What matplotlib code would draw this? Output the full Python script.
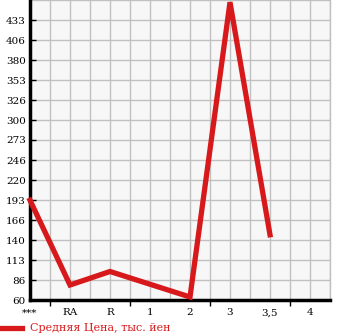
import matplotlib
matplotlib.use("Agg")
import matplotlib.pyplot as plt
from matplotlib.lines import Line2D
import numpy as np

categories = ["***", "RA", "R", "1", "2", "3", "3,5", "4"]
values = [193, 80, 98, 81, 64, 457, 147, None]
yticks = [60 + i * 400 / 15 for i in range(16)]
ytick_labels = [str(int(v)) for v in yticks[:-1]]
legend_label = "Средняя Цена, тыс. йен"

RED = "#d7191c"
W, H = 345, 335

fig = plt.figure(figsize=(W / 100, H / 100), dpi=100)
ax = fig.add_axes([30 / W, 35 / H, 300 / W, 300 / H])
ax.set_facecolor("#f7f7f7")

x = np.arange(len(categories))
xs = [xi for xi, v in zip(x, values) if v is not None]
vs = [v for v in values if v is not None]
ax.plot(xs, vs, color=RED, lw=3.8, solid_joinstyle="miter", clip_on=False, zorder=3)

ax.set_xlim(0, 7.5)
ax.set_ylim(60, 460)
ax.set_yticks(yticks[:-1])
ax.set_yticklabels(ytick_labels, fontsize=7.5, family="DejaVu Serif")
ax.set_xticks(x)
ax.set_xticklabels(categories, fontsize=7.5, family="DejaVu Serif")
ax.set_xticks(np.arange(0.5, 8, 0.5), minor=True)

ax.grid(False)
for gx in np.arange(0.5, 7.6, 0.5):
    ax.axvline(gx, color="#c0c0c0", lw=1, zorder=1)
for gy in yticks[1:]:
    ax.axhline(gy, color="#c0c0c0", lw=1, zorder=1)

ax.tick_params(axis="x", which="major", length=0, pad=6)
ax.tick_params(axis="x", which="minor", length=4, width=1, direction="out")
ax.tick_params(axis="y", which="major", length=4, width=1, direction="in", pad=3)
for t, pos in zip(ax.xaxis.get_minor_ticks(), np.arange(0.5, 8, 0.5)):
    if abs(pos - round(pos)) < 1e-6:
        t.tick1line.set_visible(False)

ax.spines["top"].set_visible(False)
ax.spines["right"].set_color("#c0c0c0")
ax.spines["right"].set_linewidth(1)
ax.spines["left"].set_linewidth(2.5)
ax.spines["bottom"].set_linewidth(2.5)

fig.add_artist(Line2D([0 / W, 22 / W], [1 - 328 / H, 1 - 328 / H], color=RED, lw=3.8,
                      transform=fig.transFigure))
fig.text(30 / W, 1 - 328 / H, legend_label, color=RED, fontsize=8,
         family="DejaVu Serif", va="center", ha="left")

fig.savefig("out.png", dpi=100)
